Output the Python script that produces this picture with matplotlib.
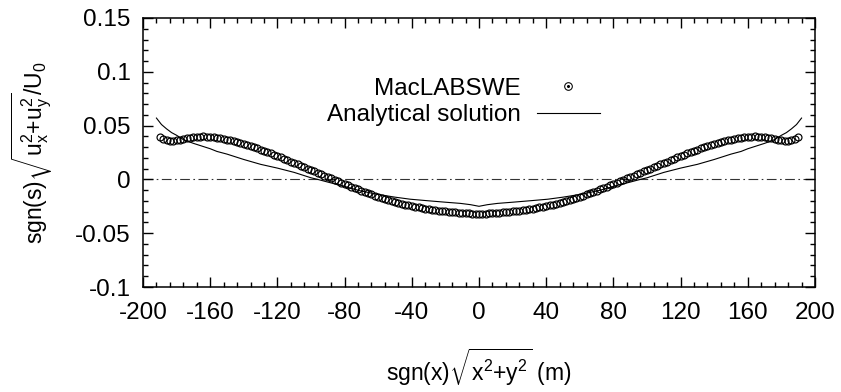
import numpy as np
import matplotlib
matplotlib.use("Agg")
import matplotlib.pyplot as plt
from matplotlib.lines import Line2D
from matplotlib.ticker import MultipleLocator, FixedLocator

plt.rcParams['font.family'] = ['Liberation Sans', 'DejaVu Sans']
plt.rcParams['mathtext.fontset'] = 'custom'
plt.rcParams['mathtext.rm'] = 'Liberation Sans'
plt.rcParams['mathtext.it'] = 'Liberation Sans:italic'
plt.rcParams['mathtext.bf'] = 'Liberation Sans:bold'
plt.rcParams['lines.scale_dashes'] = False

# ---- data ----
mac_x = np.arange(-190, 191, 2)
mac_y = [
    0.0390, 0.0375, 0.0365, 0.0360, 0.0360, 0.0365, 0.0370, 0.0377, 0.0383, 0.0388,
    0.0392, 0.0396, 0.0398, 0.0399, 0.0398, 0.0396, 0.0393, 0.0388, 0.0382, 0.0375,
    0.0368, 0.0362, 0.0355, 0.0347, 0.0339, 0.0330, 0.0320, 0.0310, 0.0299, 0.0288,
    0.0277, 0.0265, 0.0253, 0.0241, 0.0229, 0.0217, 0.0205, 0.0192, 0.0179, 0.0166,
    0.0153, 0.0140, 0.0127, 0.0114, 0.0101, 0.0088, 0.0075, 0.0062, 0.0049, 0.0036,
    0.0023, 0.0010, -0.0003, -0.0016, -0.0029, -0.0042, -0.0055, -0.0068, -0.0080, -0.0092,
    -0.0104, -0.0116, -0.0128, -0.0139, -0.0150, -0.0161, -0.0171, -0.0181, -0.0191, -0.0200,
    -0.0209, -0.0218, -0.0226, -0.0234, -0.0241, -0.0248, -0.0255, -0.0261, -0.0267, -0.0272,
    -0.0277, -0.0282, -0.0286, -0.0290, -0.0294, -0.0298, -0.0301, -0.0304, -0.0307, -0.0310,
    -0.0312, -0.0314, -0.0316, -0.0317, -0.0318, -0.0318,
    -0.0318, -0.0317, -0.0316, -0.0314, -0.0312,
    -0.0310, -0.0307, -0.0304, -0.0301, -0.0298, -0.0294, -0.0290, -0.0286, -0.0282, -0.0277,
    -0.0272, -0.0267, -0.0261, -0.0255, -0.0248, -0.0241, -0.0234, -0.0226, -0.0218, -0.0209,
    -0.0200, -0.0191, -0.0181, -0.0171, -0.0161, -0.0150, -0.0139, -0.0128, -0.0116, -0.0104,
    -0.0092, -0.0080, -0.0068, -0.0055, -0.0042, -0.0029, -0.0016, -0.0003, 0.0010, 0.0023,
    0.0036, 0.0049, 0.0062, 0.0075, 0.0088, 0.0101, 0.0114, 0.0127, 0.0140, 0.0153,
    0.0166, 0.0179, 0.0192, 0.0205, 0.0217, 0.0229, 0.0241, 0.0253, 0.0265, 0.0277,
    0.0288, 0.0299, 0.0310, 0.0320, 0.0330, 0.0339, 0.0347, 0.0355, 0.0362, 0.0368,
    0.0375, 0.0382, 0.0388, 0.0393, 0.0396, 0.0398, 0.0399, 0.0398, 0.0396, 0.0392,
    0.0388, 0.0383, 0.0377, 0.0370, 0.0365, 0.0360, 0.0360, 0.0365, 0.0375, 0.0390,
]

ana_x = [-192, -189, -186, -183, -180, -176, -170, -165, -160, -156, -150, -140, -130,
         -120, -110, -100, -96, -90, -80, -71, -60, -50, -41, -30, -20, -11, -5, 0,
         5, 11, 20, 30, 41, 50, 60, 71, 80, 90, 96, 100, 110, 120, 130, 140, 150,
         156, 160, 165, 170, 176, 180, 183, 186, 189, 192]
ana_y = [0.0570, 0.0510, 0.0470, 0.0435, 0.0410, 0.0370, 0.0335, 0.0310, 0.0285, 0.0260,
         0.0235, 0.0185, 0.0140, 0.0105, 0.0065, 0.0015, 0.0000, -0.0025, -0.0065, -0.0105,
         -0.0140, -0.0165, -0.0184, -0.0199, -0.0212, -0.0223, -0.0235, -0.0250,
         -0.0235, -0.0223, -0.0212, -0.0199, -0.0184, -0.0165, -0.0140, -0.0105, -0.0065,
         -0.0025, 0.0000, 0.0015, 0.0065, 0.0105, 0.0140, 0.0185, 0.0235, 0.0260, 0.0285,
         0.0310, 0.0335, 0.0370, 0.0410, 0.0435, 0.0470, 0.0510, 0.0570]

x_ticks = [-200, -160, -120, -80, -40, 0, 40, 80, 120, 160, 200]
y_ticks = [-0.1, -0.05, 0, 0.05, 0.1, 0.15]
y_ticklabels = ['-0.1', '-0.05', '0', '0.05', '0.1', '0.15']
series_labels = ['MacLABSWE', 'Analytical solution']

# ---- figure ----
FS = 17.5
fig = plt.figure(figsize=(8.41, 3.92), dpi=100)
ax = fig.add_axes([143/841, 1-287/392, (815-143)/841, (287-18)/392])

ax.axhline(0, color='#333333', lw=0.8, linestyle=(0, (7, 2.5, 1.2, 2.5)), zorder=1)
ax.plot(mac_x, mac_y, linestyle='none', marker='o', markersize=5.0,
        markerfacecolor='none', markeredgecolor='black', markeredgewidth=0.85, zorder=3)
ax.plot(ana_x, ana_y, color='black', lw=0.8, zorder=2)

ax.set_xlim(-200, 200)
ax.set_ylim(-0.1, 0.15)
ax.xaxis.set_major_locator(FixedLocator(x_ticks))
ax.xaxis.set_minor_locator(MultipleLocator(8))
ax.yaxis.set_major_locator(FixedLocator(y_ticks))
ax.yaxis.set_minor_locator(MultipleLocator(0.01))
ax.set_xticklabels([str(t) for t in x_ticks])
ax.set_yticklabels(y_ticklabels)
ax.tick_params(which='both', direction='in', top=True, right=True, width=1.0,
               labelsize=FS, colors='black')
ax.tick_params(axis='x', which='major', length=7, pad=11)
ax.tick_params(axis='y', which='major', length=7, pad=9)
ax.tick_params(which='minor', length=3.6)
for s in ax.spines.values():
    s.set_linewidth(1.1)

ax.set_xlabel(r'sgn(x)$\sqrt{\mathrm{x}^2\mathrm{+y}^2}$ (m)', fontsize=16.5, labelpad=16)
ax.set_ylabel(r'sgn(s)$\sqrt{\mathrm{u}_\mathrm{x}^2\mathrm{+u}_\mathrm{y}^2}$/U$_0$',
              fontsize=16.5, labelpad=14)

h_mac = (Line2D([], [], linestyle='none', marker='o', markersize=5.5,
                markerfacecolor='none', markeredgecolor='black', markeredgewidth=0.75),
         Line2D([], [], linestyle='none', marker='o', markersize=1.2,
                markerfacecolor='black', markeredgecolor='black'))
h_ana = Line2D([], [], color='black', lw=0.8)
ax.legend([h_mac, h_ana], series_labels, loc='center right',
          bbox_to_anchor=(600/841, 1-102/392), bbox_transform=fig.transFigure,
          frameon=False, markerfirst=False, fontsize=FS, handlelength=2.6,
          handletextpad=0.65, labelspacing=0.2, borderpad=0, borderaxespad=0)

fig.savefig('out.png', dpi=100)
